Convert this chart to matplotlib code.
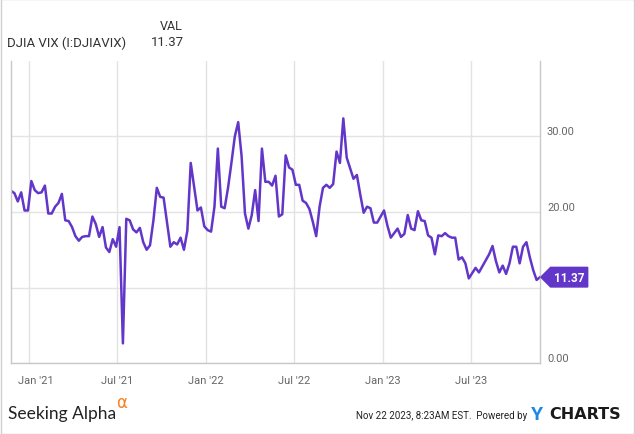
# Importing the necessary libraries

import pandas as pd                     # For the weekly date axis
import matplotlib.pyplot as plt         # For plotting
import matplotlib.dates as mdates       # For month ticks on the x axis
import matplotlib.transforms as mtransforms
from matplotlib.path import Path        # For the pointed value tag
from matplotlib.patches import Rectangle

plt.rcParams['font.family'] = ['Roboto', 'DejaVu Sans']

# -------------------------
# Data: weekly DJIA VIX readings, Nov 2020 - Nov 2023
# -------------------------
series_name = "DJIA VIX (I:DJIAVIX)"
last_week = "2023-11-21"

vix_values = [
    22.8, 22.5, 21.4, 22.6, 20.2, 20.2, 24.1, 22.9, 22.5, 22.6,
    23.5, 19.8, 19.8, 20.7, 21.2, 22.4, 18.9, 18.8, 18.0, 16.8,
    16.2, 16.7, 16.8, 16.8, 19.4, 18.4, 16.7, 18.0, 15.3, 14.7,
    16.4, 15.4, 18.0, 2.6, 19.1, 18.9, 17.7, 17.3, 17.9, 16.0,
    15.0, 15.6, 18.9, 23.2, 22.0, 21.9, 18.7, 15.4, 16.0, 15.7,
    16.6, 15.0, 17.5, 26.5, 23.4, 20.2, 20.6, 18.1, 17.6, 17.4,
    20.7, 28.4, 20.7, 20.5, 23.2, 26.5, 30.0, 31.9, 27.4, 19.8,
    17.8, 19.6, 22.9, 18.8, 28.4, 24.0, 24.0, 23.5, 24.8, 19.4,
    19.7, 27.5, 25.9, 25.6, 23.6, 23.6, 21.5, 21.2, 20.4, 18.7,
    16.8, 20.7, 23.2, 23.6, 23.2, 23.7, 28.0, 26.5, 32.4, 27.2,
    25.8, 24.4, 24.9, 22.3, 19.9, 20.7, 20.5, 18.6, 18.6, 19.4,
    20.2, 18.2, 16.6, 17.2, 17.8, 16.7, 17.1, 19.6, 17.8, 17.6,
    20.1, 18.9, 18.8, 16.9, 16.6, 14.4, 16.9, 16.8, 17.2, 16.8,
    16.6, 16.6, 13.7, 14.0, 13.2, 11.2, 11.9, 12.6, 12.0, 12.8,
    13.6, 14.4, 15.5, 13.5, 12.0, 12.9, 11.8, 13.2, 15.4, 15.4,
    13.2, 15.4, 16.0, 14.0, 12.3, 11.0, 11.37,
]

y_ticks = [0, 10, 20, 30]
y_tick_labels = ["0.00", "", "20.00", "30.00"]

dates = pd.date_range(end=last_week, periods=len(vix_values), freq="7D")

line_color = "#6236c8"
grid_color = "#e3e3e3"
frame_color = "#c8c8c8"
text_grey = "#666666"

# -------------------------
# Figure and axes
# -------------------------
fig = plt.figure(figsize=(6.35, 4.35), dpi=100)
ax = fig.add_axes([11 / 635, 71 / 435, 529 / 635, 302 / 435])

ax.plot(dates, vix_values, color=line_color, linewidth=1.8, solid_joinstyle="round")

ax.set_xlim(dates[0], dates[-1])
ax.set_ylim(0, 40)

# x axis: Jan / Jul ticks
ax.xaxis.set_major_locator(mdates.MonthLocator(bymonth=[1, 7]))
ax.xaxis.set_major_formatter(mdates.DateFormatter("%b '%y"))
ax.tick_params(axis="x", length=0, pad=9, labelsize=8, labelcolor=text_grey)

# y axis on the right, labels sitting above the grid lines
ax.yaxis.tick_right()
ax.set_yticks(y_ticks)
ax.set_yticklabels(y_tick_labels)
ax.tick_params(axis="y", length=0, pad=5, labelsize=8, labelcolor=text_grey)
plt.setp(ax.get_yticklabels(), va="bottom")

ax.grid(True, color=grid_color, linewidth=1)
ax.set_axisbelow(True)
for side in ["left", "right", "bottom"]:
    ax.spines[side].set_color(frame_color)
    ax.spines[side].set_linewidth(1)
ax.spines["top"].set_visible(False)

# first month label is nudged a little to the right, as on the original
fig.canvas.draw()
x_labels = ax.get_xticklabels()
if x_labels:
    nudge = mtransforms.ScaledTranslation(6 / 100, 0, fig.dpi_scale_trans)
    x_labels[0].set_transform(x_labels[0].get_transform() + nudge)


# Pointed tag with the last value
def tag_box(x0, y0, width, height, mutation_size):
    pad = 0.28 * mutation_size
    x0, y0 = x0 - pad, y0 - pad
    w, h = width + 2 * pad, height + 2 * pad
    tip = h / 2
    verts = [(x0, y0), (x0 + w, y0), (x0 + w, y0 + h), (x0, y0 + h),
             (x0 - tip, y0 + h / 2), (x0, y0)]
    return Path(verts, closed=True)


ax.annotate(f"{vix_values[-1]:.2f}", xy=(dates[-1], vix_values[-1]),
            xytext=(10, 0), textcoords="offset points", ha="left", va="center",
            color="white", fontsize=8.5, fontweight="bold", annotation_clip=False,
            bbox=dict(boxstyle=tag_box, fc=line_color, ec=line_color))

# -------------------------
# Header and footer text
# -------------------------
fig.text(160 / 635, 1 - 26 / 435, "VAL", fontsize=9, color="#333333", va="center")
fig.text(7 / 635, 1 - 43 / 435, series_name, fontsize=9.5, color="#333333", va="center")
fig.text(184 / 635, 1 - 43 / 435, f"{vix_values[-1]:.2f}", fontsize=9.5,
         color="#333333", va="center", ha="right")

fig.text(8 / 635, 1 - 414 / 435, "Seeking Alpha", fontsize=12.5, color="#222222",
         va="center", family=["Lato", "DejaVu Sans"])
fig.text(116 / 635, 1 - 403 / 435, "\u03b1", fontsize=12, color="#f58220",
         va="center", family=["DejaVu Sans"])

fig.text(527 / 635, 1 - 416 / 435, "Nov 22 2023, 8:23AM EST.  Powered by",
         fontsize=7, color="#222222", va="center", ha="right")
fig.text(531 / 635, 1 - 415 / 435, "Y", fontsize=14, fontweight="bold",
         color="#1e88e5", va="center")
fig.text(549 / 635, 1 - 415 / 435, "CHARTS", fontsize=11.5, fontweight="bold",
         color="#1a1a1a", va="center", family=["DejaVu Sans"])

# Thin outer border
fig.patches.append(Rectangle((0.001, 0.001), 0.998, 0.998, transform=fig.transFigure,
                             fill=False, edgecolor="#d0d0d0", linewidth=1))

plt.savefig("out.png", dpi=100)
